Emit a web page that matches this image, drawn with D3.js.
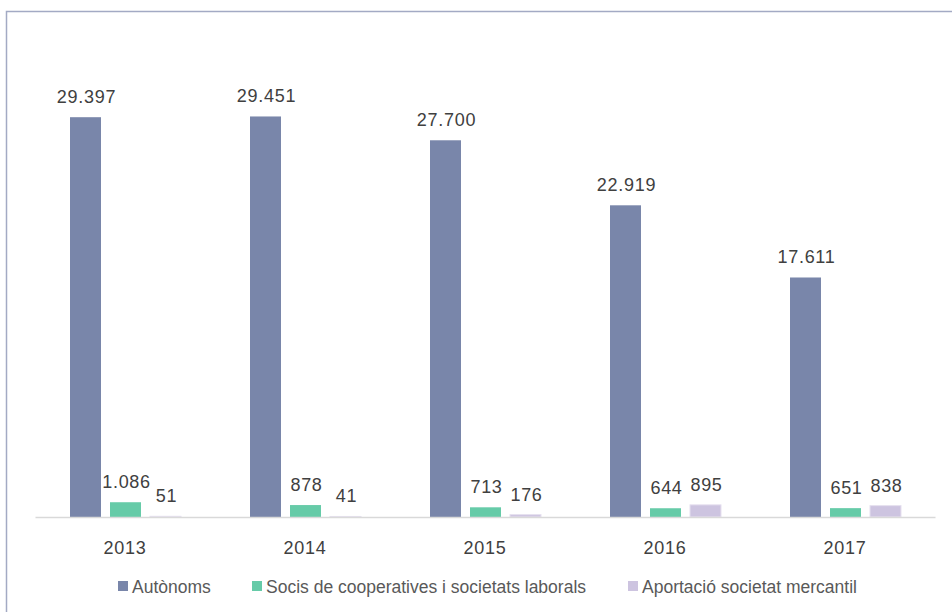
<!DOCTYPE html>
<html>
<head>
<meta charset="utf-8">
<script src="https://cdn.jsdelivr.net/npm/d3@7"></script>
<style>
  html, body { margin: 0; padding: 0; background: #fff; }
  svg { display: block; }
  text { font-family: "Liberation Sans", Arial, sans-serif; }
</style>
</head>
<body>
<svg id="chart" width="952" height="612"></svg>
<script>
const years = ["2013", "2014", "2015", "2016", "2017"];
const seriesNames = ["Autònoms", "Socis de cooperatives i societats laborals", "Aportació societat mercantil"];
const autonoms = [29397, 29451, 27700, 22919, 17611];
const socis = [1086, 878, 713, 644, 651];
const aportacio = [51, 41, 176, 895, 838];
const colors = ["#7986AA", "#66CBA8", "#CDC4E0"];

const seriesValues = [autonoms, socis, aportacio];
const fmt = v => d3.format(",")(v).replace(/,/g, ".");

const svg = d3.select("#chart");

// outer border
svg.append("rect")
  .attr("x", 6.5).attr("y", 11.5)
  .attr("width", 960).attr("height", 620)
  .attr("fill", "none")
  .attr("stroke", "#a3aac4")
  .attr("stroke-width", 1.5);

const x0 = d3.scaleBand().domain(years).range([35, 935]).padding(0);
const x1 = d3.scaleBand().domain(seriesNames).range([35, 146]).paddingInner(0.225).paddingOuter(0);
const y = d3.scaleLinear().domain([0, 35000]).range([517, 41]);

// bars
seriesNames.forEach((s, si) => {
  const g = svg.append("g");
  const data = years.map((yr, i) => ({ yr, v: seriesValues[si][i] }));
  g.selectAll("rect").data(data).join("rect")
    .attr("x", d => x0(d.yr) + x1(s))
    .attr("y", d => y(d.v))
    .attr("width", x1.bandwidth())
    .attr("height", d => y(0) - y(d.v))
    .attr("fill", colors[si])
    .attr("stroke", si === 2 ? "#e6e0ef" : "none")
    .attr("stroke-width", 1);
  g.selectAll("text").data(data).join("text")
    .attr("x", d => x0(d.yr) + x1(s) + x1.bandwidth() / 2 + 1)
    .attr("y", d => y(d.v) - 14)
    .attr("text-anchor", "middle")
    .attr("font-size", 18)
    .attr("letter-spacing", 0.7)
    .attr("fill", "#404040")
    .text(d => fmt(d.v));
});

// x axis
const xAxis = d3.axisBottom(x0).tickSize(0).tickPadding(24);
const ax = svg.append("g").attr("transform", `translate(0,${y(0)})`).call(xAxis);
ax.select(".domain").attr("stroke", "#d9d9d9").attr("stroke-width", 1.5);
ax.selectAll("text")
  .attr("font-size", 18)
  .attr("letter-spacing", 0.7)
  .attr("fill", "#404040")
  .attr("font-family", "Liberation Sans, Arial, sans-serif");

// legend
const legendX = [118, 252, 628];
const lg = svg.append("g");
seriesNames.forEach((s, i) => {
  lg.append("rect")
    .attr("x", legendX[i]).attr("y", 581)
    .attr("width", 10).attr("height", 10)
    .attr("fill", colors[i]);
  lg.append("text")
    .attr("x", legendX[i] + 14).attr("y", 593)
    .attr("font-size", 17.5)
    .attr("fill", "#595959")
    .text(s);
});
</script>
</body>
</html>
